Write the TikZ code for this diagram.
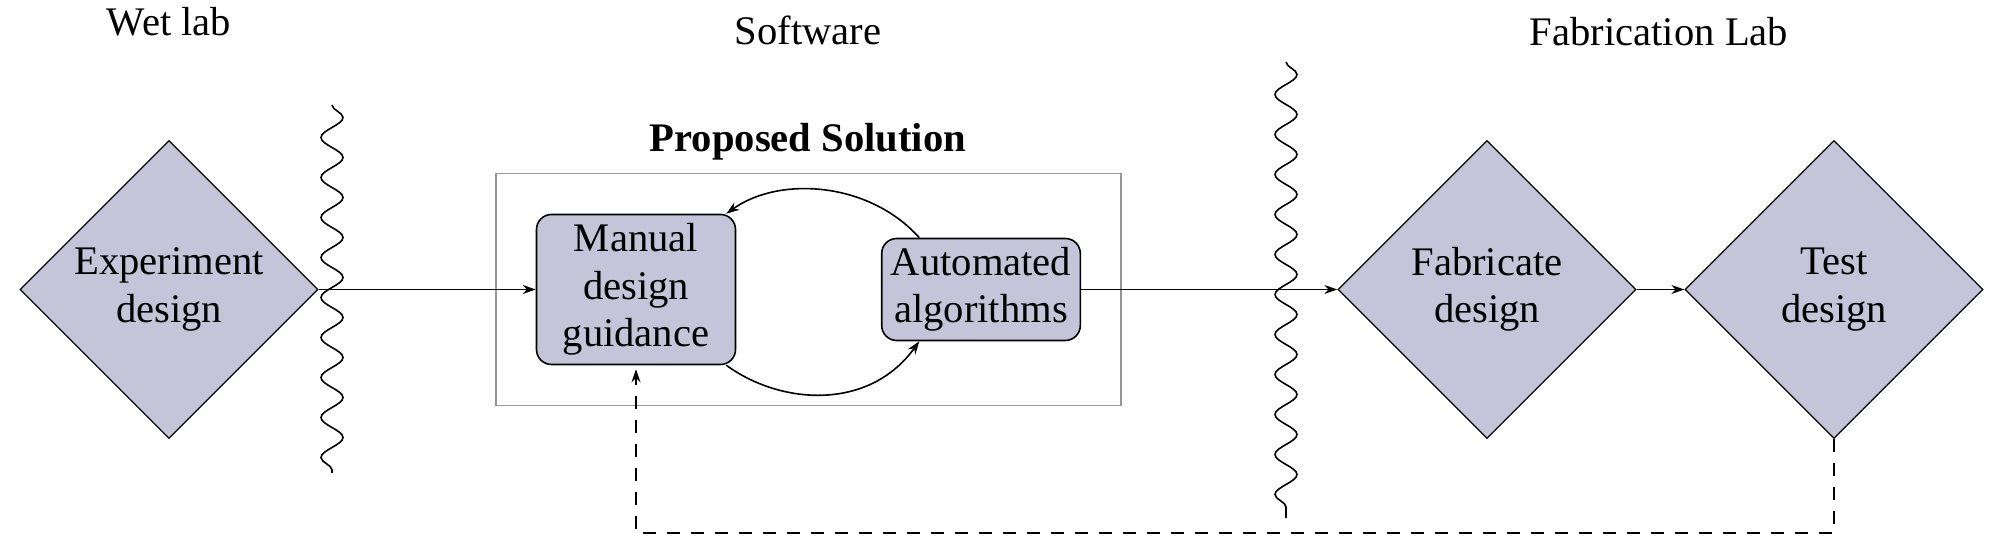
\documentclass[tikz,border=0pt]{standalone}
\usepackage{fontspec}
\setmainfont{Liberation Serif}
\usetikzlibrary{shapes.geometric,arrows.meta,decorations.pathmorphing}
\definecolor{boxfill}{RGB}{197,196,216}
\definecolor{framegray}{RGB}{150,150,150}
\newcommand\mydiagfont{\fontsize{20.3pt}{23.8pt}\selectfont}
\begin{document}
\begin{tikzpicture}[x=0.5pt,y=-0.5pt,
  font=\mydiagfont,
  every node/.style={inner sep=0pt},
  stage/.style={diamond, draw, fill=boxfill, line width=0.65pt,
    minimum width=149pt, minimum height=149pt, align=center, inner sep=0pt},
  task/.style={rectangle, rounded corners=7.5pt, draw, fill=boxfill,
    line width=0.8pt, align=center},
  flow/.style={-{Stealth[length=6.5pt,width=4.5pt]}, line width=0.8pt},
  feedback/.style={flow, dash pattern=on 6.5pt off 5.5pt},
  divider/.style={decorate, decoration={snake, segment length=20pt, amplitude=5.5pt}, line width=0.8pt},
  header/.style={anchor=base},
]
\useasboundingbox (0,0) rectangle (1998,549);

% headers
\node[header] (wet) at (169,36) {Wet lab};
\node[header] (soft) at (808,45) {Software};
\node[header] (fablab) at (1659,46) {Fabrication Lab};

% dividers
\coordinate (d1top) at (332,105);
\coordinate (d1bot) at (332,473);
\coordinate (d2top) at (1286,62);
\coordinate (d2bot) at (1286,518);
\draw[divider] (d1top) -- (d1bot);
\draw[divider] (d2top) -- (d2bot);

% proposed solution frame
\node[draw=framegray, line width=0.8pt, minimum width=312.5pt, minimum height=116pt] (frame) at (808.5,289.5) {};
\node[header, font=\mydiagfont\bfseries] (ps) at (808,152) {Proposed Solution};

% nodes
\node[stage] (exp) at (169,289.5) {Experiment\\design};
\node[stage] (fabr) at (1487,289.5) {Fabricate\\design};
\node[stage] (test) at (1834,289.5) {Test\\design};
\node[task, minimum width=99.5pt, minimum height=75pt] (man) at (636,289.5) {Manual\\design\\guidance};
\node[task, minimum width=99.3pt, minimum height=51pt] (auto) at (981,289.5) {Automated\\algorithms};

% connectors
\draw[flow] (exp.east) -- (man.west);
\draw[flow] (auto.east) -- (fabr.west);
\draw[flow] (fabr.east) -- (test.west);
\draw[flow] (auto.140) .. controls +(-50,-56) and +(53,-38) .. (man.40);
\draw[flow] (man.-40) .. controls +(55,40) and +(-50,69.5) .. (auto.220);
\draw[feedback, shorten >=2pt] (test.south) -- ++(0,94) -| (man.south);
\end{tikzpicture}
\end{document}
